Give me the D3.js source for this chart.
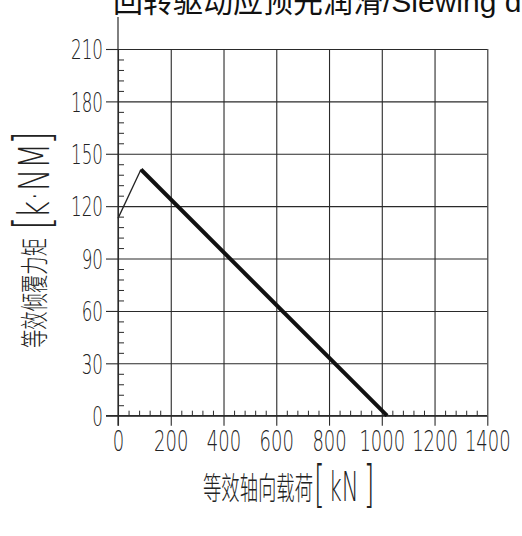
<!DOCTYPE html>
<html>
<head>
<meta charset="utf-8">
<script src="https://cdn.jsdelivr.net/npm/d3@7"></script>
<style>
  body { margin: 0; background: #fff; }
  svg { display: block; }
  .cad { font-family: "DejaVu Sans", sans-serif; font-weight: 200; fill: #222; }
  .cjk { font-family: "Noto Sans CJK SC", sans-serif; font-weight: 300; fill: #222; }
</style>
</head>
<body>
<div id="wrapper"></div>
<script>
// chart data
const titleText = "回转驱动应预先润滑/Slewing drive should be pre-lubricated";
const xTitle = "等效轴向载荷";
const xUnit = "kN";
const yTitle = "等效倾覆力矩";
const yUnit = "k·NM";

const xTicks = [0, 200, 400, 600, 800, 1000, 1200, 1400];
const xTickLabels = ["0", "200", "400", "600", "800", "1000", "1200", "1400"];
const yTicks = [0, 30, 60, 90, 120, 150, 180, 210];
const yTickLabels = ["0", "30", "60", "90", "120", "150", "180", "210"];

// thin ramp at low axial load, then the thick limit line
const rampLoad = [0, 87];
const rampMoment = [113, 141];
const limitLoad = [87, 1020];
const limitMoment = [141, 0];

function drawChart() {
  const dimensions = {
    width: 522,
    height: 536,
    margin: { top: 49, left: 118, right: 35, bottom: 120 },
  };
  dimensions.boundedWidth = 487.3 - dimensions.margin.left;
  dimensions.boundedHeight = 415.7 - dimensions.margin.top;

  const svg = d3.select("#wrapper")
    .append("svg")
    .attr("width", dimensions.width)
    .attr("height", dimensions.height);

  svg.append("rect")
    .attr("width", dimensions.width)
    .attr("height", dimensions.height)
    .attr("fill", "#fff");

  const bounds = svg.append("g")
    .attr("transform", `translate(${dimensions.margin.left},${dimensions.margin.top})`);

  const xScale = d3.scaleLinear()
    .domain([0, 1400])
    .range([0, dimensions.boundedWidth]);

  const yScale = d3.scaleLinear()
    .domain([0, 210])
    .range([dimensions.boundedHeight, 0]);

  const lineColor = "#2a2a2a";

  // grid lines (horizontal + vertical)
  const yGrid = bounds.append("g")
    .call(d3.axisLeft(yScale).tickValues(yTicks).tickSizeInner(-dimensions.boundedWidth).tickSizeOuter(0).tickFormat(""));
  const xGrid = bounds.append("g")
    .attr("transform", `translate(0,${dimensions.boundedHeight})`)
    .call(d3.axisBottom(xScale).tickValues(xTicks).tickSizeInner(-dimensions.boundedHeight).tickSizeOuter(0).tickFormat(""));
  [yGrid, xGrid].forEach((g) => {
    g.select(".domain").remove();
    g.selectAll("line").attr("stroke", lineColor).attr("stroke-width", 1.1);
  });

  // minor ticks pointing inside
  const yMinor = bounds.append("g")
    .call(d3.axisLeft(yScale).tickValues(d3.range(0, 211, 6).filter((v) => v % 30 !== 0)).tickSizeInner(-6).tickSizeOuter(0).tickFormat(""));
  const xMinor = bounds.append("g")
    .attr("transform", `translate(0,${dimensions.boundedHeight})`)
    .call(d3.axisBottom(xScale).tickValues(d3.range(0, 1401, 40).filter((v) => v % 200 !== 0)).tickSizeInner(-5).tickSizeOuter(0).tickFormat(""));
  [yMinor, xMinor].forEach((g) => {
    g.select(".domain").remove();
    g.selectAll("line").attr("stroke", lineColor).attr("stroke-width", 1);
  });

  // major ticks + labels (outside)
  const squeeze = 0.62;
  const yAxis = bounds.append("g")
    .call(d3.axisLeft(yScale).tickValues(yTicks).tickSize(12).tickPadding(0)
      .tickFormat((d, i) => yTickLabels[i]));
  yAxis.select(".domain").remove();
  yAxis.selectAll("line").attr("stroke", lineColor).attr("stroke-width", 1.1);
  yAxis.selectAll("text")
    .attr("class", "cad")
    .attr("font-size", 27)
    .attr("x", -15 / squeeze)
    .attr("dy", "0.36em")
    .attr("transform", `scale(${squeeze},1)`);

  const xAxis = bounds.append("g")
    .attr("transform", `translate(0,${dimensions.boundedHeight})`)
    .call(d3.axisBottom(xScale).tickValues(xTicks).tickSize(10).tickPadding(0)
      .tickFormat((d, i) => xTickLabels[i]));
  xAxis.select(".domain").remove();
  xAxis.selectAll("line").attr("stroke", lineColor).attr("stroke-width", 1.1);
  xAxis.selectAll("text")
    .attr("class", "cad")
    .attr("font-size", 29)
    .attr("y", 15)
    .attr("dy", "0.71em")
    .attr("transform", `scale(${squeeze},1)`);

  // axis lines, y axis runs past the top grid line
  bounds.append("line")
    .attr("x1", xScale(0)).attr("x2", xScale(0))
    .attr("y1", yScale(210) - 32).attr("y2", yScale(0) + 10)
    .attr("stroke", lineColor).attr("stroke-width", 1.2);
  bounds.append("line")
    .attr("x1", xScale(0) - 12).attr("x2", xScale(1400))
    .attr("y1", yScale(0)).attr("y2", yScale(0))
    .attr("stroke", lineColor).attr("stroke-width", 1.2);

  // the curve
  const lineGenerator = d3.line()
    .x((d) => xScale(d[0]))
    .y((d) => yScale(d[1]));

  bounds.append("path")
    .attr("d", lineGenerator(d3.zip(rampLoad, rampMoment)))
    .attr("fill", "none")
    .attr("stroke", "#222")
    .attr("stroke-width", 1.3);

  bounds.append("path")
    .attr("d", lineGenerator(d3.zip(limitLoad, limitMoment)))
    .attr("fill", "none")
    .attr("stroke", "#111")
    .attr("stroke-width", 4);

  // x axis title
  svg.append("text")
    .attr("class", "cjk")
    .attr("x", 203).attr("y", 499)
    .attr("font-size", 31)
    .attr("textLength", 110).attr("lengthAdjust", "spacingAndGlyphs")
    .text(xTitle);

  const xs = 0.55;
  const xUnitText = svg.append("text")
    .attr("class", "cad")
    .attr("transform", `translate(314,501) scale(${xs},1)`);
  xUnitText.append("tspan").attr("font-size", 50).text("[");
  xUnitText.append("tspan").attr("font-size", 41).attr("dx", 4 / xs).text(xUnit);
  xUnitText.append("tspan").attr("font-size", 50).attr("dx", 5 / xs).text("]");

  // y axis title, rotated
  const yLabel = svg.append("g")
    .attr("transform", "translate(45,348) rotate(-90)");
  yLabel.append("text")
    .attr("class", "cjk")
    .attr("x", 0).attr("y", 0)
    .attr("font-size", 28)
    .attr("textLength", 110).attr("lengthAdjust", "spacingAndGlyphs")
    .text(yTitle);

  const ys = 0.7;
  const yUnitText = yLabel.append("text")
    .attr("class", "cad")
    .attr("transform", `translate(118,4) scale(${ys},1)`);
  yUnitText.append("tspan").attr("font-size", 50).text("[");
  yUnitText.append("tspan").attr("font-size", 43).attr("dx", -2 / ys).text(yUnit);
  yUnitText.append("tspan").attr("font-size", 50).attr("dx", -2 / ys).text("]");

  // title, cut off at the top like the source
  svg.append("text")
    .attr("x", 113).attr("y", 12)
    .attr("font-size", 30)
    .style("font-family", "'Liberation Sans', 'Noto Sans CJK SC', sans-serif")
    .style("fill", "#111")
    .text(titleText);
}

drawChart();
</script>
</body>
</html>
